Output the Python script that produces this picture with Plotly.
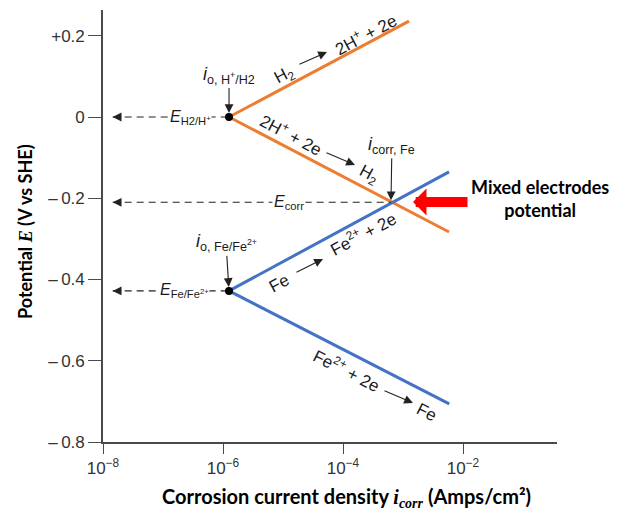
import numpy as np
import plotly.graph_objects as go

# ---------------- data ----------------
i0_H = 1.26e-6          # exchange current density H+/H2 (A/cm2)
E_H = 0.0               # equilibrium potential H2/H+ (V vs SHE)
i0_Fe = 1.26e-6         # exchange current density Fe/Fe2+
E_Fe = -0.428           # equilibrium potential Fe/Fe2+
h_anodic_i = [1.26e-6, 1.26e-3]
h_anodic_E = [0.0, 0.236]
h_cath_i = [1.26e-6, 5.85e-3]
h_cath_E = [0.0, -0.283]
fe_anodic_i = [1.26e-6, 5.85e-3]
fe_anodic_E = [-0.428, -0.135]
fe_cath_i = [1.26e-6, 5.9e-3]
fe_cath_E = [-0.428, -0.706]
i_corr = 6.3e-4
E_corr = -0.21
guide_left = 1.45e-8    # where the dashed guide arrows end (near the E axis)

y_tickvals = [0.2, 0.0, -0.2, -0.4, -0.6, -0.8]
y_ticktext = ["+0.2", "0", "\u2013\u20090.2", "\u2013\u20090.4", "\u2013\u20090.6", "\u2013\u20090.8"]
x_tickvals = [1e-8, 1e-6, 1e-4, 1e-2]
x_ticktext = ["10<sup>\u22128</sup>", "10<sup>\u22126</sup>", "10<sup>\u22124</sup>", "10<sup>\u22122</sup>"]

ORANGE = "#ED7D31"
BLUE = "#4472C4"
AX = "#4a4a4a"

# screen geometry (page has an 8px body margin)
OFF = 8
W, H = 619 - OFF, 516 - OFF
PL, PR, PT, PB = 103, 557, 10, 442          # plot area in screen pixels
PX_PER_DEC = 60.0
PX_PER_V = 406.25
x_range = [-8.0, -8.0 + (PR - PL) / PX_PER_DEC]
y_range = [-0.8, -0.8 + (PB - PT) / PX_PER_V]


def ax_(px):  # screen pixel -> log10 data coordinate (annotation placement)
    return x_range[0] + (px - PL) / PX_PER_DEC


def ay_(py):
    return y_range[0] + (PB - py) / PX_PER_V


def pxp(px):
    return (px - PL) / (PR - PL)


def pyp(py):
    return (PB - py) / (PB - PT)


fig = go.Figure()
line_w = 3
for xs, ys, c in [(h_anodic_i, h_anodic_E, ORANGE), (h_cath_i, h_cath_E, ORANGE),
                  (fe_anodic_i, fe_anodic_E, BLUE), (fe_cath_i, fe_cath_E, BLUE)]:
    fig.add_trace(go.Scatter(x=xs, y=ys, mode="lines", line=dict(color=c, width=line_w),
                             showlegend=False, hoverinfo="skip"))

# dashed guides
for xe, ye in [(i0_H, E_H), (i_corr, E_corr), (i0_Fe, E_Fe)]:
    fig.add_trace(go.Scatter(x=[guide_left, xe], y=[ye, ye], mode="lines",
                             line=dict(color="#222", width=1.1, dash="7px,5px"),
                             showlegend=False, hoverinfo="skip"))

# exchange-current points
fig.add_trace(go.Scatter(x=[i0_H, i0_Fe], y=[E_H, E_Fe], mode="markers",
                         marker=dict(color="black", size=8), showlegend=False, hoverinfo="skip"))

F = "Liberation Sans, Arial, sans-serif"
TXT = "#1a1a1a"
FS = 17
ann = []

# arrowheads of dashed guides
for ye in [E_H, E_corr, E_Fe]:
    ann.append(dict(x=np.log10(guide_left), y=ye, ax=10, ay=0, text="", showarrow=True,
                    arrowhead=2, arrowsize=1.6, arrowwidth=1.1, arrowcolor="#222"))

# guide labels (white background cuts the dashes)
ann.append(dict(x=ax_(190), y=E_H, text="<i>E</i><sub>H2/H<sup>+</sup></sub>", showarrow=False,
                bgcolor="white", font=dict(family=F, size=16, color=TXT), borderpad=0))
ann.append(dict(x=ax_(289), y=E_corr, text="<i>E</i><sub>corr</sub>", showarrow=False,
                bgcolor="white", font=dict(family=F, size=16, color=TXT), borderpad=1))
ann.append(dict(x=ax_(184), y=E_Fe, text="<i>E</i><sub>Fe/Fe<sup>2+</sup></sub>", showarrow=False,
                bgcolor="white", font=dict(family=F, size=16, color=TXT), borderpad=0))

# exchange / corrosion current labels with vertical arrows
ann.append(dict(x=np.log10(i0_H), y=E_H, ax=0, ay=-42, text="<i>i</i><sub>o, H<sup>+</sup>/H2</sub>",
                showarrow=True, arrowhead=2, arrowsize=1.6, arrowwidth=1.1, arrowcolor="#222",
                standoff=4, font=dict(family=F, size=18, color=TXT)))
ann.append(dict(x=np.log10(i0_Fe), y=E_Fe, ax=-3, ay=-48, text="<i>i</i><sub>o, Fe/Fe<sup>2+</sup></sub>",
                showarrow=True, arrowhead=2, arrowsize=1.6, arrowwidth=1.1, arrowcolor="#222",
                standoff=4, font=dict(family=F, size=18, color=TXT)))
ann.append(dict(x=np.log10(i_corr), y=E_corr, ax=1, ay=-57, text="<i>i</i><sub>corr, Fe</sub>",
                showarrow=True, arrowhead=2, arrowsize=1.6, arrowwidth=1.1, arrowcolor="#222",
                standoff=2, font=dict(family=F, size=18, color=TXT)))


# reaction labels along the lines
def rtxt(px, py, t, ang):
    ann.append(dict(x=ax_(px), y=ay_(py), text=t, textangle=ang, showarrow=False,
                    xanchor="center", yanchor="middle",
                    font=dict(family=F, size=FS, color=TXT)))


def rarr(tx, ty, hx, hy):
    ann.append(dict(x=ax_(hx), y=ay_(hy), ax=tx - hx, ay=ty - hy, text="", showarrow=True,
                    arrowhead=2, arrowsize=1.6, arrowwidth=1.1, arrowcolor="#222"))


rtxt(284, 76, "H<sub>2</sub>", -28)
rarr(298, 65, 327, 52)
rtxt(365, 34, "2H<sup>+</sup> + 2e", -28)

rtxt(291, 134, "2H<sup>+</sup> + 2e", 28)
rarr(325, 152, 355, 165)
rtxt(368, 175, "H<sub>2</sub>", 28)

rtxt(279, 283, "Fe", -28)
rarr(295, 273, 323, 259)
rtxt(363, 233, "Fe<sup>2+</sup> + 2e", -28)

rtxt(347, 370, "Fe<sup>2+</sup> + 2e", 27)
rarr(383, 390, 413, 403)
rtxt(427, 412, "Fe", 27)

# red arrow + note
ann.append(dict(x=ax_(413), y=ay_(202), ax=56, ay=0, text="", showarrow=True,
                arrowhead=1, arrowsize=0.45, arrowwidth=10, arrowcolor="#FF0000"))
ann.append(dict(x=pxp(540), y=pyp(198), xref="paper", yref="paper", showarrow=False,
                xanchor="center", yanchor="middle",
                text="<b>Mixed electrodes<br>potential</b>", align="center",
                font=dict(family="Lato, sans-serif", size=18, color="black")))

# axis titles
ann.append(dict(x=pxp(346), y=pyp(497), xref="paper", yref="paper", showarrow=False,
                xanchor="center", yanchor="middle",
                text="<b>Corrosion current density <span style='font-family:Liberation Serif'><i>i<sub>corr</sub></i></span> (Amps/cm\u00b2)</b>",
                font=dict(family="Lato, sans-serif", size=20, color="black")))
ann.append(dict(x=pxp(25), y=pyp(232), xref="paper", yref="paper", showarrow=False, textangle=-90,
                xanchor="center", yanchor="middle",
                text="<b>Potential <span style='font-family:Liberation Serif'><i>E</i></span> (V vs SHE)</b>",
                font=dict(family="Lato, sans-serif", size=18, color="black")))

fig.update_layout(
    width=W, height=H, autosize=False,
    margin=dict(l=PL - OFF, r=W - (PR - OFF), t=PT - OFF, b=H - (PB - OFF), pad=0),
    plot_bgcolor="white", paper_bgcolor="white",
    annotations=ann,
    xaxis=dict(type="log", range=x_range, tickmode="array", tickvals=x_tickvals, ticktext=x_ticktext,
               showgrid=False, zeroline=False, showline=True, linecolor=AX, linewidth=1.6,
               ticks="outside", ticklen=10, tickwidth=1.4, tickcolor=AX,
               tickfont=dict(family=F, size=17, color="#333")),
    yaxis=dict(range=y_range, tickmode="array", tickvals=y_tickvals, ticktext=y_ticktext,
               showgrid=False, zeroline=False, showline=True, linecolor=AX, linewidth=1.6,
               ticks="outside", ticklen=13, tickwidth=1.4, tickcolor=AX,
               tickfont=dict(family=F, size=17, color="#333")),
)

fig.write_html("out.html")
